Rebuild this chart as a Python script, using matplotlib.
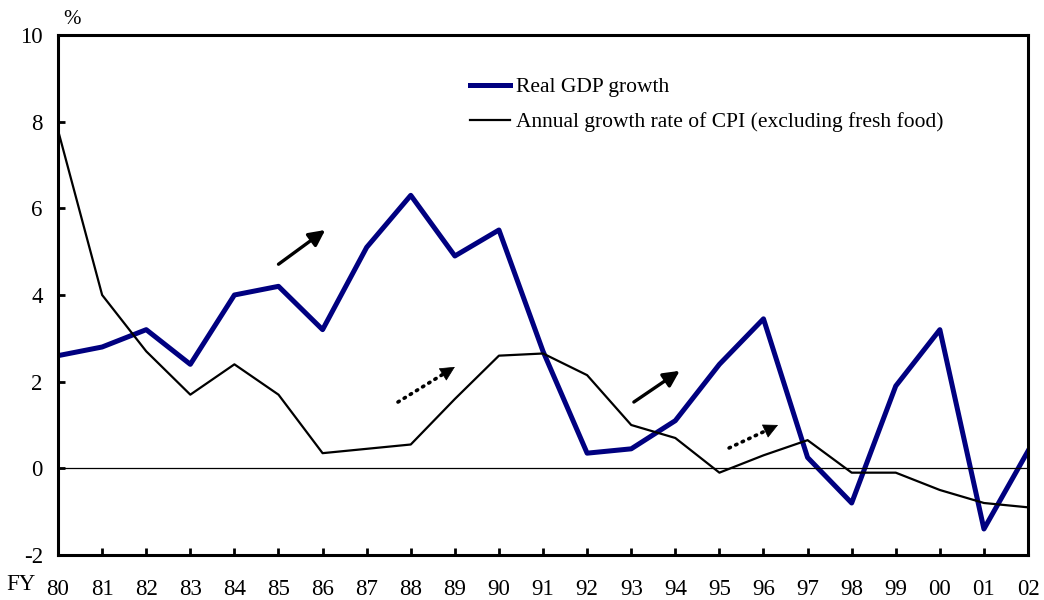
import matplotlib.pyplot as plt

years = ['80', '81', '82', '83', '84', '85', '86', '87', '88', '89', '90', '91',
         '92', '93', '94', '95', '96', '97', '98', '99', '00', '01', '02']
gdp = [2.6, 2.8, 3.2, 2.4, 4.0, 4.2, 3.2, 5.1, 6.3, 4.9, 5.5, 2.7,
       0.35, 0.45, 1.1, 2.4, 3.45, 0.25, -0.8, 1.9, 3.2, -1.4, 0.4]
cpi = [7.8, 4.0, 2.7, 1.7, 2.4, 1.7, 0.35, 0.45, 0.55, 1.6, 2.6, 2.65,
       2.15, 1.0, 0.7, -0.1, 0.3, 0.65, -0.1, -0.1, -0.5, -0.8, -0.9]

plt.rcParams['font.family'] = 'Liberation Serif'
plt.rcParams['axes.unicode_minus'] = False

fig = plt.figure(figsize=(10.44, 6), dpi=100)
ax = fig.add_axes([0.0556, 0.075, 0.9291, 0.8667])

x = list(range(len(years)))
ax.plot(x, gdp, color='#000080', lw=3.6, label='Real GDP growth')
ax.plot(x, cpi, color='black', lw=1.6, label='Annual growth rate of CPI (excluding fresh food)')
ax.axhline(0, color='black', lw=0.9)


def trend_arrow(start, end, dotted=False):
    if dotted:
        # dotted shaft, then a solid head on the last bit
        ax.annotate('', xy=end, xytext=start,
                    arrowprops=dict(arrowstyle='-', color='black', lw=2.6,
                                    ls=(0, (0.4, 1.6)), capstyle='round',
                                    shrinkA=0, shrinkB=8))
        mid = (start[0] + (end[0] - start[0]) * 0.8, start[1] + (end[1] - start[1]) * 0.8)
        ax.annotate('', xy=end, xytext=mid,
                    arrowprops=dict(arrowstyle='-|>', color='black', lw=0.5,
                                    mutation_scale=24, shrinkA=0, shrinkB=0))
    else:
        ax.annotate('', xy=end, xytext=start,
                    arrowprops=dict(arrowstyle='-|>', color='black', lw=2.4,
                                    mutation_scale=24, shrinkA=0, shrinkB=0))


trend_arrow((5.0, 4.71), (6.06, 5.5))
trend_arrow((7.71, 1.53), (9.0, 2.34), dotted=True)
trend_arrow((13.06, 1.53), (14.1, 2.25))
trend_arrow((15.22, 0.47), (16.33, 1.0), dotted=True)

ax.set_xlim(0, len(years) - 1)
ax.set_ylim(-2, 10)
ax.set_yticks(range(-2, 11, 2))
ax.set_xticks(x)
ax.set_xticklabels(years)
ax.tick_params(axis='both', direction='in', labelsize=16.5, width=2, length=5)
ax.tick_params(axis='x', pad=17)
ax.tick_params(axis='y', pad=11)
for s in ax.spines.values():
    s.set_linewidth(2.2)

fig.text(72 / 1044, 1 - 19 / 600, '%', fontsize=15, ha='center', va='center')
fig.text(21 / 1044, 1 - 585 / 600, 'FY', fontsize=16.5, ha='center', va='center')

ax.legend(loc='upper left', bbox_to_anchor=(0.4247, 0.919), frameon=False, fontsize=15.5,
          handlelength=1.85, handletextpad=0.3, labelspacing=0.7,
          borderpad=0, borderaxespad=0)

fig.savefig('out.png', dpi=100)
